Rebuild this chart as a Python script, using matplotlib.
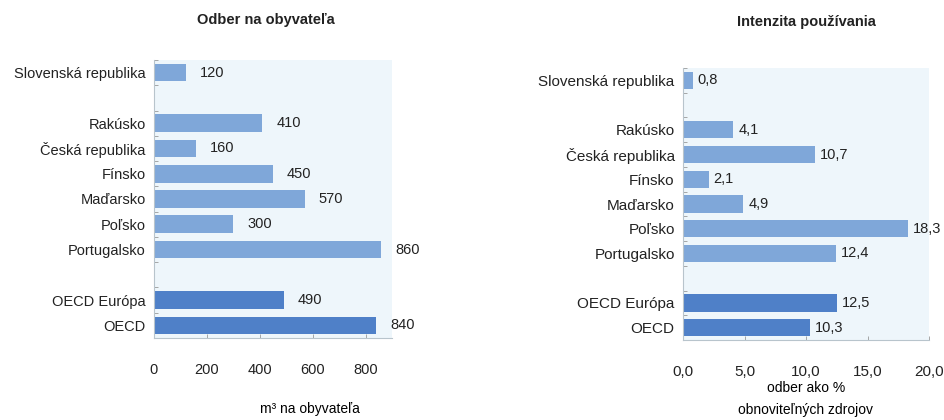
import numpy as np
import matplotlib
matplotlib.use('Agg')
import matplotlib.pyplot as plt
from matplotlib.ticker import FuncFormatter, FixedLocator

plt.rcParams['font.family'] = ['Liberation Sans', 'DejaVu Sans']
plt.rcParams['font.size'] = 10.5
plt.rcParams['text.color'] = '#222222'
plt.rcParams['xtick.color'] = '#999999'
plt.rcParams['ytick.color'] = '#999999'
plt.rcParams['xtick.labelcolor'] = '#222222'
plt.rcParams['ytick.labelcolor'] = '#222222'

countries = ['Slovenská republika', 'Rakúsko', 'Česká republika', 'Fínsko',
             'Maďarsko', 'Poľsko', 'Portugalsko', 'OECD Európa', 'OECD']
rows = [0, 2, 3, 4, 5, 6, 7, 9, 10]
is_oecd = [False, False, False, False, False, False, False, True, True]

odber = [120, 410, 160, 450, 570, 300, 860, 490, 840]
intenzita = [0.8, 4.1, 10.7, 2.1, 4.9, 18.3, 12.4, 12.5, 10.3]

light = '#7fa7d9'
dark = '#4f80c8'
bg = '#eef6fb'
colors = [dark if o else light for o in is_oecd]

fig = plt.figure(figsize=(9.44, 4.2), dpi=100)
ax1 = fig.add_axes([154/944, 1-338/420, (392-154)/944, (338-60)/420])
ax2 = fig.add_axes([683/944, 1-340/420, (929-683)/944, (340-68)/420])

def comma(v, pos=None):
    return ('%.1f' % v).replace('.', ',')

for ax, vals, xmax, ticks in ((ax1, odber, 900, [0, 200, 400, 600, 800]),
                              (ax2, intenzita, 20, [0, 5, 10, 15, 20])):
    ax.set_facecolor(bg)
    ax.barh(rows, vals, height=0.7, color=colors, edgecolor='none')
    ax.set_xlim(0, xmax)
    ax.set_ylim(10.5, -0.5)
    ax.set_yticks(rows)
    ax.set_yticklabels(countries)
    ax.tick_params(axis='y', which='major', length=0, pad=6)
    ax.yaxis.set_minor_locator(FixedLocator(np.arange(-0.5, 11, 1)))
    ax.tick_params(axis='y', which='minor', length=3, direction='in', width=0.6)
    ax.set_xticks(ticks)
    ax.tick_params(axis='x', length=3, direction='in', width=0.6, pad=18)
    for side in ('top', 'right'):
        ax.spines[side].set_visible(False)
    for side in ('left', 'bottom'):
        ax.spines[side].set_color('#b8c4cc')
        ax.spines[side].set_linewidth(0.8)

for r, v in zip(rows, odber):
    ax1.annotate('%d' % v, xy=(v, r), xytext=(10, 0), textcoords='offset points',
                 ha='left', va='center', fontsize=10.5)
for r, v in zip(rows, intenzita):
    ax2.annotate(comma(v), xy=(v, r), xytext=(3.5, 0), textcoords='offset points',
                 ha='left', va='center', fontsize=10.5)

ax2.xaxis.set_major_formatter(FuncFormatter(comma))
ax2.tick_params(axis='both', labelsize=11)

ax1.set_title('Odber na obyvateľa', fontsize=10.5, fontweight='bold', pad=26, x=0.47)
ax2.set_title('Intenzita používania', fontsize=10.5, fontweight='bold', pad=30, x=0.5)

ax1.set_xlabel('m³ na obyvateľa', fontsize=10)
ax1.xaxis.set_label_coords(0.655, -0.232)
ax2.set_xlabel('odber ako %\nobnoviteľných zdrojov', fontsize=10, linespacing=1.75)
ax2.xaxis.set_label_coords(0.5, -0.15)
ax2.xaxis.label.set_va('top')

plt.savefig('out.png', dpi=100)
